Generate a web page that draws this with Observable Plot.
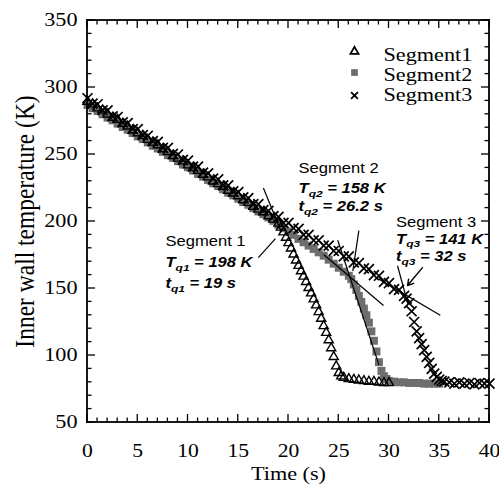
<!DOCTYPE html>
<html>
<head>
<meta charset="utf-8">
<script src="https://cdn.jsdelivr.net/npm/d3@7"></script>
<script src="https://cdn.jsdelivr.net/npm/@observablehq/plot@0.6"></script>
<style>
  html, body { margin: 0; padding: 0; background: #fff; overflow: hidden; }
  svg { display: block; }
</style>
</head>
<body>
<div id="chart"></div>
<script>
// Inner wall temperature during chilldown, three wall segments (s, K)
const seg1Time = [0,0.5,1,1.5,2,2.5,3,3.5,4,4.5,5,5.5,6,6.5,7,7.5,8,8.5,9,9.5,10,10.5,11,11.5,12,12.5,13,13.5,14,14.5,15,15.5,16,16.5,17,17.5,18,18.5,19,
  19.25,19.5,19.75,20,20.25,20.5,20.75,21,21.25,21.5,21.75,22,22.25,22.5,22.75,23,23.25,23.5,23.75,24,24.25,24.5,24.75,25,25.25,25.5,
  26,26.5,27,27.5,28,28.5,29,29.5,30];
const seg1Temp = [289.5,287.5,284.5,283,280,277.5,276,273,271,268,266,264,261,259,257,254,252,249,247,245,242,240,238,235,233,230,228,226,223,221,219,216,214,211,209,207,204,201.5,198.5,
  195.5,192,188,184,180,175.5,171,167,163,159,155,150.5,146.5,142,137.5,132.5,127.5,122,117,111.5,105.5,99,92,87,84.5,83.5,
  82.5,82,81.5,81,80.5,80.5,80,79.5,79.5];

const seg2Time = [0,0.5,1,1.5,2,2.5,3,3.5,4,4.5,5,5.5,6,6.5,7,7.5,8,8.5,9,9.5,10,10.5,11,11.5,12,12.5,13,13.5,14,14.5,15,15.5,16,16.5,17,17.5,18,18.5,19,19.5,20,20.5,21,21.5,22,22.5,23,23.5,24,24.5,25,25.5,26,
  26.25,26.5,26.75,27,27.25,27.5,27.75,28,28.25,28.5,28.75,29,29.25,29.5,29.75,
  30,30.5,31,31.5,32,32.5,33,33.5,34,34.5,35];
const seg2Temp = [287,284.5,282.5,280,277.5,275.5,273,270.5,268.5,266,263.5,261.5,259,256.5,254.5,252,249.5,247.5,245,242.5,240.5,238,235.5,233.5,231,228.5,226.5,224,221.5,219.5,217,214.5,212.5,210,207.5,205.5,203,200.5,197.5,195,192.5,190,187,184.5,182,179.5,177,174.5,171.5,168.5,165.5,162.5,159.5,
  157,153,149,144.5,140,135,130,124.5,118,111,103,95,88.5,84.5,82.5,
  81,80.5,80,80,79.5,79.5,79.5,79,79,79,79];

const seg3Time = [0,0.5,1,1.5,2,2.5,3,3.5,4,4.5,5,5.5,6,6.5,7,7.5,8,8.5,9,9.5,10,10.5,11,11.5,12,12.5,13,13.5,14,14.5,15,15.5,16,16.5,17,17.5,18,18.5,19,19.5,20,20.5,21,21.5,22,22.5,23,23.5,24,24.5,25,25.5,26,26.5,27,27.5,28,28.5,29,29.5,30,30.5,31,31.5,
  31.75,32,32.25,32.5,32.75,33,33.25,33.5,33.75,34,34.25,34.5,34.75,35,35.25,35.5,
  36,36.5,37,37.5,38,38.5,39,39.5,40];
const seg3Temp = [292,288,287.5,283,283,278.5,278,274,273.5,269,269,264.5,264,260,259.5,255,255,250.5,250,246,245.5,241,241,236.5,236,232,231.5,227,227,222.5,222,218,217.5,213,213,208.5,208,204,203.5,199,199,195,194.5,190,190,186,186,182,182,178,178,174,174,169.5,169,165,164.5,160,159.5,155,154,149.5,149,144.5,
  142.5,139,133,125,118,113,108.5,104,99,94.5,90,86.5,84,82,81,80.5,
  80,79,80,79,79.5,78.5,79.5,79,79];

// Quench points stated in the annotations
const segmentNames = ["Segment 1", "Segment 2", "Segment 3"];
const quenchTime = [19, 26.2, 32];
const quenchTemp = [198, 158, 141];

// Annotation blocks: left edge (s) and the baseline of each of the three lines (K)
const noteTime = [7.76, 21.0, 30.7];
const noteTemp = [[182.0, 166.3, 150.6], [236.4, 221.5, 208.0], [196.1, 183.5, 170.8]];

// Tangent construction lines (start s, start K, end s, end K)
const tangentT1 = [17.5, 24.9, 23.5, 30.85, 29.0];
const tangentK1 = [225, 186, 175.4, 167, 157];
const tangentT2 = [19.3, 29.0, 29.45, 31.9, 35.1];
const tangentK2 = [192, 93, 137.3, 138, 130];

// Leader lines from the notes to the quench points
const leaderT1 = [17.0, 27.0];
const leaderK1 = [173.0, 193.2];
const leaderT2 = [18.7, 26.4];
const leaderK2 = [187.2, 163.0];
const arrowT = [33.33, 31.84];
const arrowK = [165.6, 152.2];

// Axes
const xDomain = [0, 40];
const yDomain = [50, 350];
const xMajorTicks = [0, 5, 10, 15, 20, 25, 30, 35, 40];
const xMinorTicks = [1,2,3,4,6,7,8,9,11,12,13,14,16,17,18,19,21,22,23,24,26,27,28,29,31,32,33,34,36,37,38,39];
const yMajorTicks = [50, 100, 150, 200, 250, 300, 350];
const yMinorTicks = [60,70,80,90,110,120,130,140,160,170,180,190,210,220,230,240,260,270,280,290,310,320,330,340];

const legendLabels = ["Segment1", "Segment2", "Segment3"];

const serif = "'Liberation Serif', 'Times New Roman', serif";
const sans = "'Liberation Sans', Arial, sans-serif";
const gray = "#6e6e6e";

const majorLen = 8, minorLen = 4.5;
const tickHalf = 0.65, edgeHalf = 0.9;

const rows = (ts, ks) => ts.map((t, i) => ({t, T: ks[i]}));
const seg1 = rows(seg1Time, seg1Temp);
const seg2 = rows(seg2Time, seg2Temp);
const seg3 = rows(seg3Time, seg3Temp);

const tangents = tangentT1.map((t, i) => ({t1: t, k1: tangentK1[i], t2: tangentT2[i], k2: tangentK2[i]}));
const leaders = leaderT1.map((t, i) => ({t1: t, k1: leaderK1[i], t2: leaderT2[i], k2: leaderK2[i]}));
const arrows = [{t1: arrowT[0], k1: arrowK[0], t2: arrowT[1], k2: arrowK[1]}];

const notes = segmentNames.flatMap((name, i) => [
  {text: name, t: noteTime[i], T: noteTemp[i][0], italic: false},
  {text: `T_{q${i + 1}} = ${quenchTemp[i]} K`, t: noteTime[i], T: noteTemp[i][1], italic: true},
  {text: `t_{q${i + 1}} = ${quenchTime[i]} s`, t: noteTime[i], T: noteTemp[i][2], italic: true}
]);
const plainNotes = notes.filter(d => !d.italic);
const italicNotes = notes.filter(d => d.italic);

// Box edges as thin filled strips
const box = [
  {t1: xDomain[0], t2: xDomain[1], k1: yDomain[0], k2: yDomain[0]},
  {t1: xDomain[0], t2: xDomain[1], k1: yDomain[1], k2: yDomain[1]},
  {t1: xDomain[0], t2: xDomain[0], k1: yDomain[0], k2: yDomain[1]},
  {t1: xDomain[1], t2: xDomain[1], k1: yDomain[0], k2: yDomain[1]}
];
const boxMark = Plot.rect(box, {x1: "t1", x2: "t2", y1: "k1", y2: "k2",
  inset: -edgeHalf, fill: "black"});

// Inward ticks as short filled strips grown from each edge
const ticksBottom = (ticks, len) => Plot.rect(ticks, {x1: d => d, x2: d => d, y1: () => yDomain[0], y2: () => yDomain[0],
  insetLeft: -tickHalf, insetRight: -tickHalf, insetTop: -len, insetBottom: 0, fill: "black"});
const ticksTop = (ticks, len) => Plot.rect(ticks, {x1: d => d, x2: d => d, y1: () => yDomain[1], y2: () => yDomain[1],
  insetLeft: -tickHalf, insetRight: -tickHalf, insetTop: 0, insetBottom: -len, fill: "black"});
const ticksLeft = (ticks, len) => Plot.rect(ticks, {y1: d => d, y2: d => d, x1: () => xDomain[0], x2: () => xDomain[0],
  insetTop: -tickHalf, insetBottom: -tickHalf, insetLeft: 0, insetRight: -len, fill: "black"});
const ticksRight = (ticks, len) => Plot.rect(ticks, {y1: d => d, y2: d => d, x1: () => xDomain[1], x2: () => xDomain[1],
  insetTop: -tickHalf, insetBottom: -tickHalf, insetLeft: -len, insetRight: 0, fill: "black"});

const legendSymbols = ["triangle", "square", "times"];
const legendMarks = legendLabels.flatMap((label, i) => [
  Plot.dot([label], {
    frameAnchor: "top-left", dx: 267, dy: [31, 52, 75][i],
    symbol: legendSymbols[i], r: [3, 3.8, 3.2][i],
    fill: i === 1 ? gray : "none", stroke: i === 1 ? "none" : "black", strokeWidth: 1.8
  }),
  Plot.text([label], {
    frameAnchor: "top-left", dx: 296, dy: [40, 60, 80][i], text: d => d,
    textAnchor: "start", lineAnchor: "bottom",
    fontFamily: serif, fontSize: 18.5, fill: "black"
  })
]);

const chart = Plot.plot({
  width: 499,
  height: 484,
  marginLeft: 87,
  marginRight: 10,
  marginTop: 20,
  marginBottom: 62,
  style: {background: "white", color: "black"},
  x: {domain: xDomain, axis: null},
  y: {domain: yDomain, axis: null},
  marks: [
    // tick labels
    Plot.text(xMajorTicks, {x: d => d, text: d => String(d), frameAnchor: "bottom", dy: 22, lineAnchor: "top",
      textAnchor: "middle", fontFamily: serif, fontSize: 18, fill: "black"}),
    Plot.text(yMajorTicks, {y: d => d, text: d => String(d), frameAnchor: "left", dx: -10, lineAnchor: "middle",
      textAnchor: "end", fontFamily: serif, fontSize: 18.5, fill: "black"}),

    // axis titles
    Plot.text(["Time (s)"], {frameAnchor: "bottom", dy: 57, lineAnchor: "bottom", textAnchor: "middle", text: d => d,
      fontFamily: serif, fontSize: 18.5, fill: "black"}),
    Plot.text(["Inner wall temperature (K)"], {frameAnchor: "left", dx: -54, rotate: -90, lineAnchor: "bottom",
      textAnchor: "middle", text: d => d, fontFamily: serif, fontSize: 23.5, fill: "black"}),

    // measurements
    Plot.dot(seg2, {x: "t", y: "T", symbol: "square", r: 4.5, fill: gray, stroke: "none"}),
    Plot.dot(seg1, {x: "t", y: "T", symbol: "triangle", r: 3.4, fill: "none", stroke: "black", strokeWidth: 1.4}),
    Plot.dot(seg3, {x: "t", y: "T", symbol: "times", r: 4.6, stroke: "black", strokeWidth: 1.7}),

    // tangent construction and leaders
    Plot.link(tangents, {x1: "t1", y1: "k1", x2: "t2", y2: "k2", stroke: "black", strokeWidth: 1.2}),
    Plot.link(leaders, {x1: "t1", y1: "k1", x2: "t2", y2: "k2", stroke: "black", strokeWidth: 1.2}),
    Plot.arrow(arrows, {x1: "t1", y1: "k1", x2: "t2", y2: "k2", stroke: "black", strokeWidth: 1.4, headLength: 7, bend: 0}),

    // annotations
    Plot.text(plainNotes, {x: "t", y: "T", text: "text", textAnchor: "start", lineAnchor: "bottom",
      fontFamily: sans, fontSize: 13.8, fill: "black"}),
    Plot.text(italicNotes, {x: "t", y: "T", text: "text", textAnchor: "start", lineAnchor: "bottom",
      fontFamily: sans, fontSize: 13.8, fontStyle: "italic", fontWeight: "bold", fill: "black"}),

    ...legendMarks,

    // inward ticks and the box
    ticksBottom(xMinorTicks, minorLen), ticksBottom(xMajorTicks, majorLen),
    ticksTop(xMinorTicks, minorLen), ticksTop(xMajorTicks, majorLen),
    ticksLeft(yMinorTicks, minorLen), ticksLeft(yMajorTicks, majorLen),
    ticksRight(yMinorTicks, minorLen), ticksRight(yMajorTicks, majorLen),
    boxMark
  ]
});

document.getElementById("chart").append(chart);

// Subscripts written as _{...} become lowered, smaller tspans
const NS = "http://www.w3.org/2000/svg";
chart.querySelectorAll("text").forEach(el => {
  const s = el.textContent;
  if (!s.includes("_{")) return;
  const base = parseFloat(getComputedStyle(el).fontSize) || 14;
  el.textContent = "";
  let lowered = false;
  s.split(/(_\{[^}]*\})/).forEach(tok => {
    if (!tok) return;
    const ts = document.createElementNS(NS, "tspan");
    if (tok.startsWith("_{")) {
      ts.textContent = tok.slice(2, -1);
      ts.setAttribute("font-size", (base * 0.72) + "px");
      ts.setAttribute("dy", base * 0.28);
      lowered = true;
    } else {
      ts.textContent = tok;
      if (lowered) { ts.setAttribute("dy", -base * 0.28); lowered = false; }
    }
    el.appendChild(ts);
  });
});

// Wide lettering: stretch every label horizontally about its anchor
const stretch = 1.2;
chart.querySelectorAll("text").forEach(el => {
  const tf = el.getAttribute("transform") || "";
  const rotated = /rotate\(\s*-?90/.test(tf);
  el.setAttribute("transform", `${tf} ${rotated ? `scale(1,${stretch})` : `scale(${stretch},1)`}`.trim());
});
</script>
</body>
</html>
